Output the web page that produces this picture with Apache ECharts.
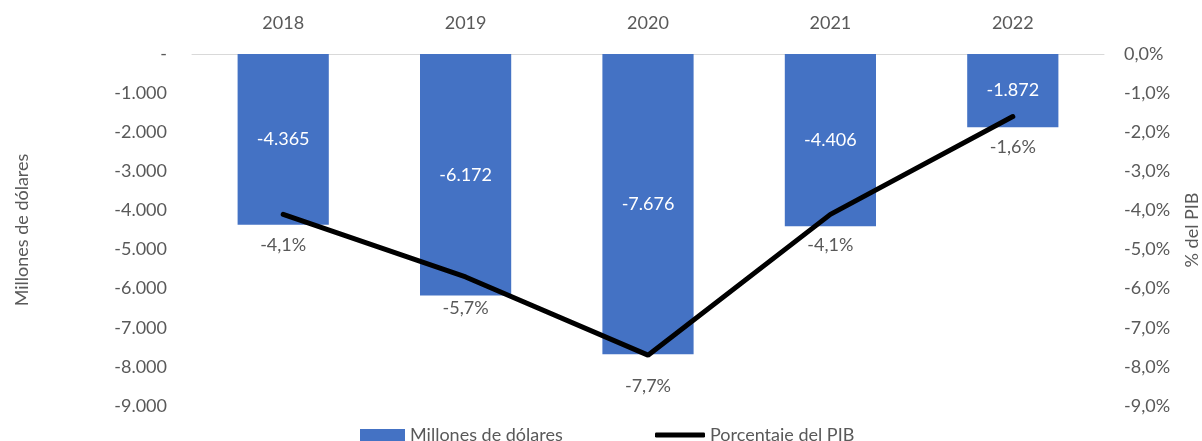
<!DOCTYPE html>
<html><head><meta charset="utf-8">
<script src="https://cdn.jsdelivr.net/npm/echarts@6/dist/echarts.min.js"></script>
<style>html,body{margin:0;padding:0;background:#fff}#c{width:1202px;height:441px}</style>
</head><body><div id="c"></div>
<script>
const years = ['2018','2019','2020','2021','2022'];
const millones = [-4365, -6172, -7676, -4406, -1872];
const porcentaje = [-4.1, -5.7, -7.7, -4.1, -1.6];
const leftTicks = [0, -1000, -2000, -3000, -4000, -5000, -6000, -7000, -8000, -9000];
const rightTicks = [0, -1, -2, -3, -4, -5, -6, -7, -8, -9];

const FONT = 'Lato';
const GRAY = '#595959';
function fmtThousands(v){
  if (v === 0) return '-';
  const s = Math.abs(v).toString().replace(/\B(?=(\d{3})+(?!\d))/g, '.');
  return (v < 0 ? '-' : '') + s;
}
function fmtPct(v){
  return (v < 0 ? '-' : '') + Math.abs(v).toFixed(1).replace('.', ',') + '%';
}
const chart = echarts.init(document.getElementById('c'));
chart.setOption({
  animation: false,
  textStyle: {fontFamily: FONT},
  grid: {left: 192, right: 98, top: 54, bottom: 35, outerBoundsMode: 'none', containLabel: false},
  legend: [
    {data: [{name: 'Millones de dólares', icon: 'rect'}], left: 355, top: 421, itemWidth: 45, itemHeight: 12, itemGap: 5,
     textStyle: {fontFamily: FONT, fontSize: 18, color: GRAY}},
    {data: [{name: 'Porcentaje del PIB', icon: 'roundRect'}], left: 650, top: 421, itemWidth: 50, itemHeight: 5, itemGap: 5,
     textStyle: {fontFamily: FONT, fontSize: 18, color: GRAY}}
  ],
  xAxis: {
    type: 'category', data: years, position: 'top',
    axisLine: {show: true, lineStyle: {color: '#d9d9d9', width: 1}},
    axisTick: {show: false},
    axisLabel: {color: GRAY, fontSize: 18, fontFamily: FONT, margin: 22}
  },
  yAxis: [
    {type: 'value', min: -9000, max: 0, interval: 1000,
     name: 'Millones de dólares', nameLocation: 'middle', nameGap: 161, nameRotate: 90,
     nameTextStyle: {color: GRAY, fontSize: 18, fontFamily: FONT},
     axisLine: {show: false}, axisTick: {show: false}, splitLine: {show: false},
     axisLabel: {color: GRAY, fontSize: 18, fontFamily: FONT, margin: 25, formatter: fmtThousands}},
    {type: 'value', min: -9, max: 0, interval: 1,
     name: '% del PIB', nameLocation: 'middle', nameGap: 79, nameRotate: 90,
     nameTextStyle: {color: GRAY, fontSize: 18, fontFamily: FONT},
     axisLine: {show: false}, axisTick: {show: false}, splitLine: {show: false},
     axisLabel: {color: GRAY, fontSize: 18, fontFamily: FONT, margin: 20, formatter: fmtPct}}
  ],
  series: [
    {name: 'Millones de dólares', type: 'bar', data: millones, barWidth: '50%', yAxisIndex: 0,
     itemStyle: {color: '#4472C4'},
     label: {show: true, position: 'inside', color: '#ffffff', fontSize: 18, fontFamily: FONT, formatter: p => fmtThousands(p.value)}},
    {name: 'Porcentaje del PIB', type: 'line', data: porcentaje, yAxisIndex: 1,
     lineStyle: {color: '#000000', width: 5, cap: 'round'}, itemStyle: {color: '#000000'},
     symbol: 'circle', symbolSize: 2, showSymbol: true, z: 5,
     labelLayout: {hideOverlap: false},
     label: {show: true, position: 'bottom', distance: 21, color: GRAY, fontSize: 18, fontFamily: FONT, formatter: p => fmtPct(p.value)}}
  ]
});
</script></body></html>
